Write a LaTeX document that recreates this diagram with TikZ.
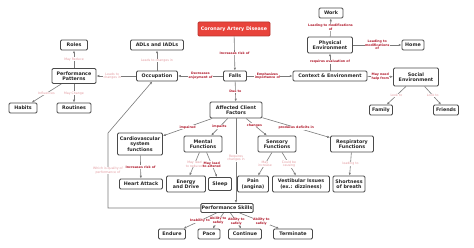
\documentclass[tikz,border=0pt]{standalone}
\usepackage{fontspec}
\setmainfont{DejaVu Sans}
\usetikzlibrary{arrows.meta}
\definecolor{cadred}{HTML}{E8433B}
\definecolor{lblred}{HTML}{B0182A}
\definecolor{lblpink}{HTML}{E39A9F}
\definecolor{edgegray}{HTML}{7A7A7A}
\definecolor{boxline}{HTML}{4A4A4A}
\tikzset{
 box/.style={draw=boxline, line width=0.9pt, rounded corners=1.2pt, fill=white,
   font=\fontsize{4.8}{5.4}\selectfont\bfseries, align=center, inner sep=0.8pt, text=black!85},
 cadbox/.style={box, fill=cadred, draw=cadred!80!black, text=white},
 conn/.style={draw=edgegray, line width=0.6pt, -{Latex[length=2.8pt,width=2.4pt]}},
 rl/.style={fill=white, text=lblred, font=\fontsize{3.2}{3.7}\selectfont\bfseries, align=center, inner sep=0.4pt},
 pl/.style={fill=white, text=lblpink, font=\fontsize{3.2}{3.7}\selectfont, align=center, inner sep=0.4pt},
}
\begin{document}
\begin{tikzpicture}[x=1pt,y=-1pt]
\useasboundingbox (0,0) rectangle (474,248);
% nodes
\node[cadbox, minimum width=72, minimum height=14] (cad) at (234,29) {Coronary Artery Disease};
\node[box, minimum width=24, minimum height=10] (work) at (331,13) {Work};
\node[box, minimum width=45, minimum height=16] (phys) at (330,45) {Physical\\Environment};
\node[box, minimum width=22, minimum height=10] (home) at (413,45) {Home};
\node[box, minimum width=74, minimum height=10] (ctx) at (330,76) {Context \& Environment};
\node[box, minimum width=45, minimum height=18] (soc) at (416,77) {Social\\Environment};
\node[box, minimum width=23, minimum height=10] (fam) at (381,110) {Family};
\node[box, minimum width=25, minimum height=10] (fri) at (446,110) {Friends};
\node[box, minimum width=23, minimum height=10] (falls) at (235,76) {Falls};
\node[box, minimum width=41, minimum height=10] (occ) at (157,76) {Occupation};
\node[box, minimum width=53, minimum height=10] (adls) at (157,45) {ADLs and IADLs};
\node[box, minimum width=44, minimum height=15] (pp) at (74,76) {Performance\\Patterns};
\node[box, minimum width=27, minimum height=10] (roles) at (74,45) {Roles};
\node[box, minimum width=28, minimum height=10] (habits) at (23,108) {Habits};
\node[box, minimum width=34, minimum height=10] (routines) at (74,108) {Routines};
\node[box, minimum width=52, minimum height=16] (acf) at (236,110) {Affected Client\\Factors};
\node[box, minimum width=45, minimum height=22] (cardio) at (140,144) {Cardiovascular\\system\\functions};
\node[box, minimum width=43, minimum height=10] (heart) at (141,184) {Heart Attack};
\node[box, minimum width=38, minimum height=16] (mental) at (203,144) {Mental\\Functions};
\node[box, minimum width=39, minimum height=16] (energy) at (186,184) {Energy\\and Drive};
\node[box, minimum width=23, minimum height=13] (sleep) at (220,184) {Sleep};
\node[box, minimum width=38, minimum height=16] (sensory) at (277,144) {Sensory\\Functions};
\node[box, minimum width=31, minimum height=16] (pain) at (253,184) {Pain\\(angina)};
\node[box, minimum width=57, minimum height=16] (vest) at (301,184) {Vestibular Issues\\(ex.: dizziness)};
\node[box, minimum width=43, minimum height=16] (resp) at (352,144) {Respiratory\\Functions};
\node[box, minimum width=32, minimum height=16] (sob) at (349,184) {Shortness\\of breath};
\node[box, minimum width=45, minimum height=9] (ps) at (227,208) {Performance Skills};
\node[box, minimum width=27, minimum height=10] (endure) at (172,234) {Endure};
\node[box, minimum width=22, minimum height=10] (pace) at (209,234) {Pace};
\node[box, minimum width=33, minimum height=10] (cont) at (245,234) {Continue};
\node[box, minimum width=39, minimum height=10] (term) at (293,234) {Terminate};
\coordinate (b1) at (108,208);
\coordinate (b2) at (108,133);
% connectors
\draw[conn] (cad) -- node[rl]{Increases risk of} (falls);
\draw[conn] (falls) -- node[rl]{Decreases\\enjoyment of} (occ);
\draw[conn] (falls) -- node[rl, pos=0.45]{Emphasizes\\importance of} (ctx);
\draw[conn] (falls) -- node[rl]{Due to} (acf);
\draw[conn] (occ) -- node[pl]{Leads to changes in} (adls);
\draw[conn] (occ) -- node[pl, pos=0.6]{Leads to\\changes in} (pp);
\draw[conn] (pp) -- node[pl]{May Reduce} (roles);
\draw[conn] (pp) -- node[pl]{Influences} (habits);
\draw[conn] (pp) -- node[pl]{May Change} (routines);
\draw[conn] (ctx) -- node[rl]{requires evaluation of} (phys);
\draw[conn] (phys) -- node[rl]{Leading to modifications\\of} (work);
\draw[conn] (phys) -- node[rl]{Leading to\\modifications\\of} (home);
\draw[conn] (ctx) -- node[rl]{May need\\help from} (soc);
\draw[conn] (soc) -- node[pl]{Look to} (fam);
\draw[conn] (soc) -- node[pl]{Look to} (fri);
\draw[conn] (acf) -- node[rl]{impaired} (cardio);
\draw[conn] (acf) -- node[rl]{impacts} (mental);
\draw[conn] (acf) -- node[rl, pos=0.4]{changes} (sensory);
\draw[conn] (acf) -- node[rl]{produces deficits in} (resp);
\draw[conn] (cardio) -- node[rl]{Increases risk of} (heart);
\draw[conn] (mental) -- node[pl]{May lead\\to reduced} (energy);
\draw[conn] (mental) -- node[rl]{May lead\\to altered} (sleep);
\draw[conn] (sensory) -- node[pl]{May\\increase} (pain);
\draw[conn] (sensory) -- node[pl]{Could be\\causing} (vest);
\draw[conn] (resp) -- node[pl]{leading to} (sob);
\draw[conn] (acf.south) -- node[pl, pos=0.47]{Requires\\changes in} (acf.south |- ps.north);
\draw[conn] (ps.west) -- (b1) -- node[pl]{Which is quality of\\performance of} (b2) -- (occ);
\draw[conn] (ps) -- node[rl]{Inability to} (endure);
\draw[conn] (ps) -- node[rl]{Ability to\\safely} (pace);
\draw[conn] (ps) -- node[rl, pos=0.55]{Ability to\\safely} (cont);
\draw[conn] (ps) -- node[rl, pos=0.55]{Ability to\\safely} (term);
\end{tikzpicture}
\end{document}
